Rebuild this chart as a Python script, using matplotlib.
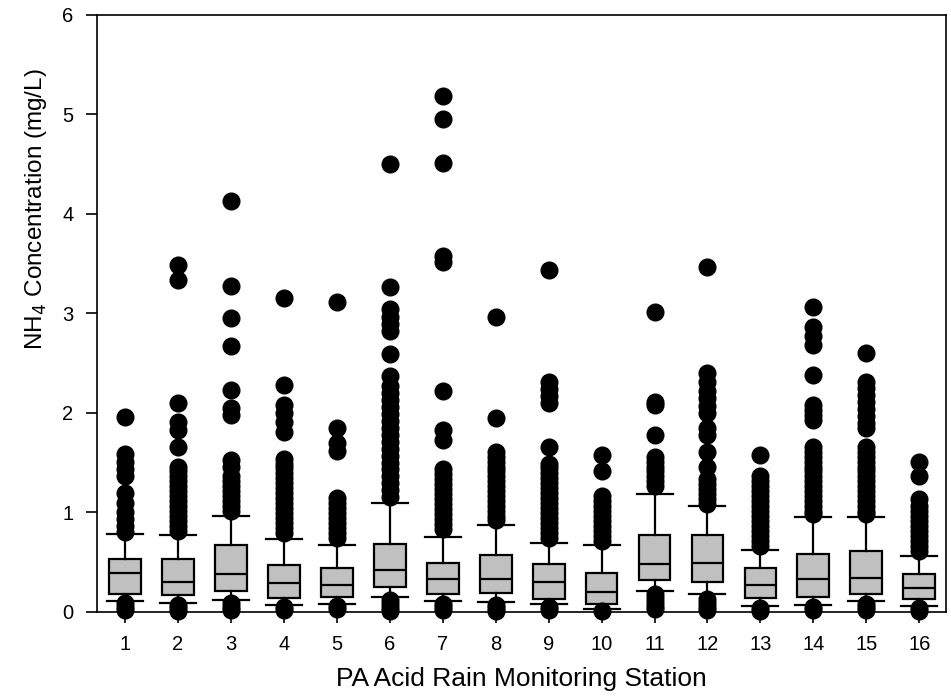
import matplotlib
matplotlib.use("Agg")
import matplotlib.pyplot as plt

plt.rcParams['font.family'] = ['Liberation Sans', 'DejaVu Sans']

stations = list(range(1, 17))

# box statistics (mg/L)
q1 = [0.18, 0.17, 0.21, 0.14, 0.15, 0.25, 0.18, 0.19, 0.13, 0.08, 0.32, 0.30, 0.14, 0.15, 0.18, 0.13]
med = [0.39, 0.30, 0.38, 0.29, 0.27, 0.42, 0.33, 0.33, 0.30, 0.20, 0.48, 0.49, 0.27, 0.33, 0.34, 0.24]
q3 = [0.53, 0.53, 0.67, 0.47, 0.44, 0.68, 0.49, 0.57, 0.48, 0.39, 0.77, 0.77, 0.44, 0.58, 0.61, 0.38]
whislo = [0.11, 0.09, 0.12, 0.07, 0.08, 0.15, 0.11, 0.10, 0.08, 0.03, 0.21, 0.18, 0.06, 0.07, 0.11, 0.06]
whishi = [0.78, 0.77, 0.96, 0.73, 0.67, 1.09, 0.75, 0.87, 0.69, 0.67, 1.18, 1.06, 0.62, 0.95, 0.95, 0.56]

# outlying points per station
high = [
    [1.96, 1.59, 1.51, 1.43, 1.36, 1.19, 1.09, 1.00, 0.93, 0.86, 0.80],
    [3.48, 3.33, 2.10, 1.91, 1.83, 1.66, 1.46, 1.41, 1.36, 1.31, 1.26, 1.21, 1.16, 1.11,
     1.06, 1.01, 0.96, 0.91, 0.86, 0.81],
    [4.13, 3.27, 2.95, 2.67, 2.23, 2.05, 1.98, 1.53, 1.46, 1.36, 1.31, 1.26, 1.21, 1.16,
     1.11, 1.06, 1.01],
    [3.15, 2.28, 2.08, 2.00, 1.91, 1.81, 1.54, 1.49, 1.44, 1.39, 1.34, 1.29, 1.24, 1.19,
     1.14, 1.09, 1.04, 0.99, 0.94, 0.89, 0.84, 0.79],
    [3.11, 1.85, 1.70, 1.62, 1.14, 1.09, 1.04, 0.99, 0.94, 0.89, 0.84, 0.79, 0.74],
    [4.50, 3.26, 3.04, 2.96, 2.89, 2.82, 2.59, 2.37, 2.27, 2.20, 2.13, 2.06, 1.99, 1.92,
     1.85, 1.78, 1.71, 1.64, 1.57, 1.50, 1.43, 1.36, 1.29, 1.22, 1.15],
    [5.18, 4.95, 4.51, 3.58, 3.51, 2.22, 1.83, 1.73, 1.43, 1.38, 1.33, 1.28, 1.23, 1.18,
     1.13, 1.08, 1.03, 0.98, 0.93, 0.88, 0.83],
    [2.96, 1.95, 1.61, 1.56, 1.51, 1.46, 1.41, 1.36, 1.31, 1.26, 1.21, 1.16, 1.11, 1.06,
     1.01, 0.96, 0.92],
    [3.43, 2.31, 2.24, 2.17, 2.10, 1.66, 1.49, 1.44, 1.39, 1.34, 1.29, 1.24, 1.19, 1.14,
     1.09, 1.04, 0.99, 0.94, 0.89, 0.84, 0.79, 0.74],
    [1.58, 1.41, 1.16, 1.11, 1.06, 1.01, 0.96, 0.91, 0.86, 0.81, 0.76, 0.71],
    [3.01, 2.11, 2.08, 1.78, 1.56, 1.51, 1.46, 1.41, 1.36, 1.31, 1.26],
    [3.46, 2.40, 2.31, 2.22, 2.15, 2.07, 2.00, 1.85, 1.78, 1.61, 1.46, 1.33, 1.28, 1.23,
     1.18, 1.13, 1.08],
    [1.58, 1.36, 1.31, 1.26, 1.21, 1.16, 1.11, 1.06, 1.01, 0.96, 0.91, 0.86, 0.81, 0.76,
     0.71, 0.66],
    [3.06, 2.86, 2.77, 2.68, 2.38, 2.08, 2.03, 1.98, 1.93, 1.66, 1.61, 1.56, 1.51, 1.46,
     1.41, 1.36, 1.31, 1.26, 1.21, 1.16, 1.11, 1.06, 1.01, 0.98],
    [2.60, 2.31, 2.25, 2.18, 2.11, 2.04, 1.97, 1.90, 1.85, 1.66, 1.61, 1.56, 1.51, 1.46,
     1.41, 1.36, 1.31, 1.26, 1.21, 1.16, 1.11, 1.06, 1.01, 0.98],
    [1.51, 1.36, 1.13, 1.06, 1.01, 0.96, 0.91, 0.86, 0.81, 0.76, 0.71, 0.66, 0.61],
]
low = [
    [0.09, 0.05, 0.02], [0.07, 0.04, 0.01], [0.09, 0.05, 0.02], [0.05, 0.02],
    [0.06, 0.03], [0.12, 0.08, 0.04, 0.01], [0.08, 0.05, 0.02], [0.07, 0.04, 0.01],
    [0.05, 0.02], [0.01], [0.18, 0.14, 0.10, 0.06, 0.03], [0.13, 0.09, 0.05, 0.02],
    [0.04, 0.01], [0.05, 0.02], [0.08, 0.05, 0.02], [0.04, 0.01],
]

stats = []
for i in range(len(stations)):
    stats.append(dict(q1=q1[i], med=med[i], q3=q3[i], whislo=whislo[i], whishi=whishi[i],
                      fliers=high[i] + low[i], label=str(stations[i])))

fig = plt.figure(figsize=(9.51, 7.0), dpi=100)
ax = fig.add_axes([0.102, 0.126, 0.893, 0.853])

lw = 1.6
bp = ax.bxp(stats, positions=stations, widths=0.6, capwidths=0.68, patch_artist=True,
            boxprops=dict(facecolor='#c0c0c0', edgecolor='black', linewidth=lw),
            medianprops=dict(color='black', linewidth=lw),
            whiskerprops=dict(color='black', linewidth=lw),
            capprops=dict(color='black', linewidth=lw),
            flierprops=dict(marker='o', markersize=12, markerfacecolor='black',
                            markeredgecolor='black', linestyle='none'))
for f in bp['fliers']:
    f.set_clip_on(False)
    f.set_zorder(3)

ax.set_xlim(0.47, 16.51)
ax.set_ylim(0, 6)
ax.set_yticks(range(0, 7))
ax.tick_params(axis='both', direction='out', length=8, width=1.2, labelsize=14.5)
ax.tick_params(axis='x', pad=9)
ax.tick_params(axis='y', pad=9)
ax.tick_params(top=False, right=False)
for s in ax.spines.values():
    s.set_linewidth(1.2)

ax.set_xlabel('PA Acid Rain Monitoring Station', fontsize=19)
ax.set_ylabel('NH$_4$ Concentration (mg/L)', fontsize=17.5)
ax.xaxis.set_label_coords(0.5, -0.092)
ax.yaxis.set_label_coords(-0.057, 0.675)

fig.savefig('out.png', dpi=100)
